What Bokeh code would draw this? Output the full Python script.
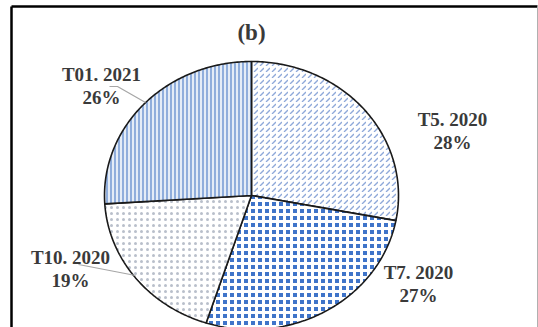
import numpy as np
from bokeh.plotting import figure
from bokeh.models import Range1d
from bokeh.embed import file_html
from bokeh.resources import INLINE
from bokeh.core.properties import value

# Share of each period (percent), clockwise from 12 o'clock
periods = ["T5. 2020", "T7. 2020", "T10. 2020", "T01. 2021"]
shares = [28, 27, 19, 26]
share_labels = ["28%", "27%", "19%", "26%"]
title_text = "(b)"

# Per-slice fill styles
fill_colors = ["white", "#3f74c9", "white", "#e4ecf7"]
hatch_patterns = ["right_diagonal_dash", "cross", "dot", "vertical_line"]
hatch_colors = ["#8fa9d9", "white", "#b9bfcb", "#6b93d0"]
hatch_scales = [6, 7, 6, 4]
hatch_weights = [1.3, 3.0, 0.5, 1.4]

W, H = 538, 327
p = figure(width=W, height=H, x_range=Range1d(0, W), y_range=Range1d(H, 0),
           output_backend="svg", toolbar_location=None, min_border=0,
           x_axis_location=None, y_axis_location=None)
p.grid.visible = False
p.outline_line_color = None
p.background_fill_color = "white"

# Pie geometry (screen-like coordinates, y grows downward)
cx, cy, rx, ry = 251, 195, 147, 134

start = 90.0
for i, s in enumerate(shares):
    sweep = 360.0 * s / sum(shares)
    t = np.radians(np.linspace(start, start - sweep, 120))
    xs = [cx] + list(cx + rx * np.cos(t)) + [cx]
    ys = [cy] + list(cy - ry * np.sin(t)) + [cy]
    p.patch(xs, ys, fill_color=fill_colors[i], hatch_pattern=hatch_patterns[i],
            hatch_color=hatch_colors[i], hatch_scale=hatch_scales[i],
            hatch_weight=hatch_weights[i], line_color="#1a1a1a", line_width=1.6)
    start -= sweep

# Leader lines for the two outer-left labels
p.line([109, 117, 145], [86, 86, 102], line_color="#a6a6a6", line_width=1.2)
p.line([78, 135], [264, 275], line_color="#a6a6a6", line_width=1.2)

# Frame around the chart
p.line([11, 11], [6, H + 5], line_color="black", line_width=2.5)
p.line([11, 537], [6, 6], line_color="black", line_width=2.5)
p.line([537, 537], [6, H + 5], line_color="#b0b0b0", line_width=1)

label_x = [452, 418, 70, 101]
label_y = [119, 272, 257, 74]
font = value("Liberation Serif")
p.text(x=label_x, y=label_y, text=periods, text_font=font, text_font_style="bold",
       text_font_size="19px", text_color="#3a3a3a", text_align="center",
       text_baseline="middle")
p.text(x=label_x, y=[v + 23 for v in label_y], text=share_labels, text_font=font,
       text_font_style="bold", text_font_size="19px", text_color="#3a3a3a",
       text_align="center", text_baseline="middle")
p.text(x=[251], y=[32], text=[title_text], text_font=font, text_font_style="bold",
       text_font_size="23px", text_color="#3a3a3a", text_align="center",
       text_baseline="middle")

open("out.html", "w").write(file_html(p, INLINE))
